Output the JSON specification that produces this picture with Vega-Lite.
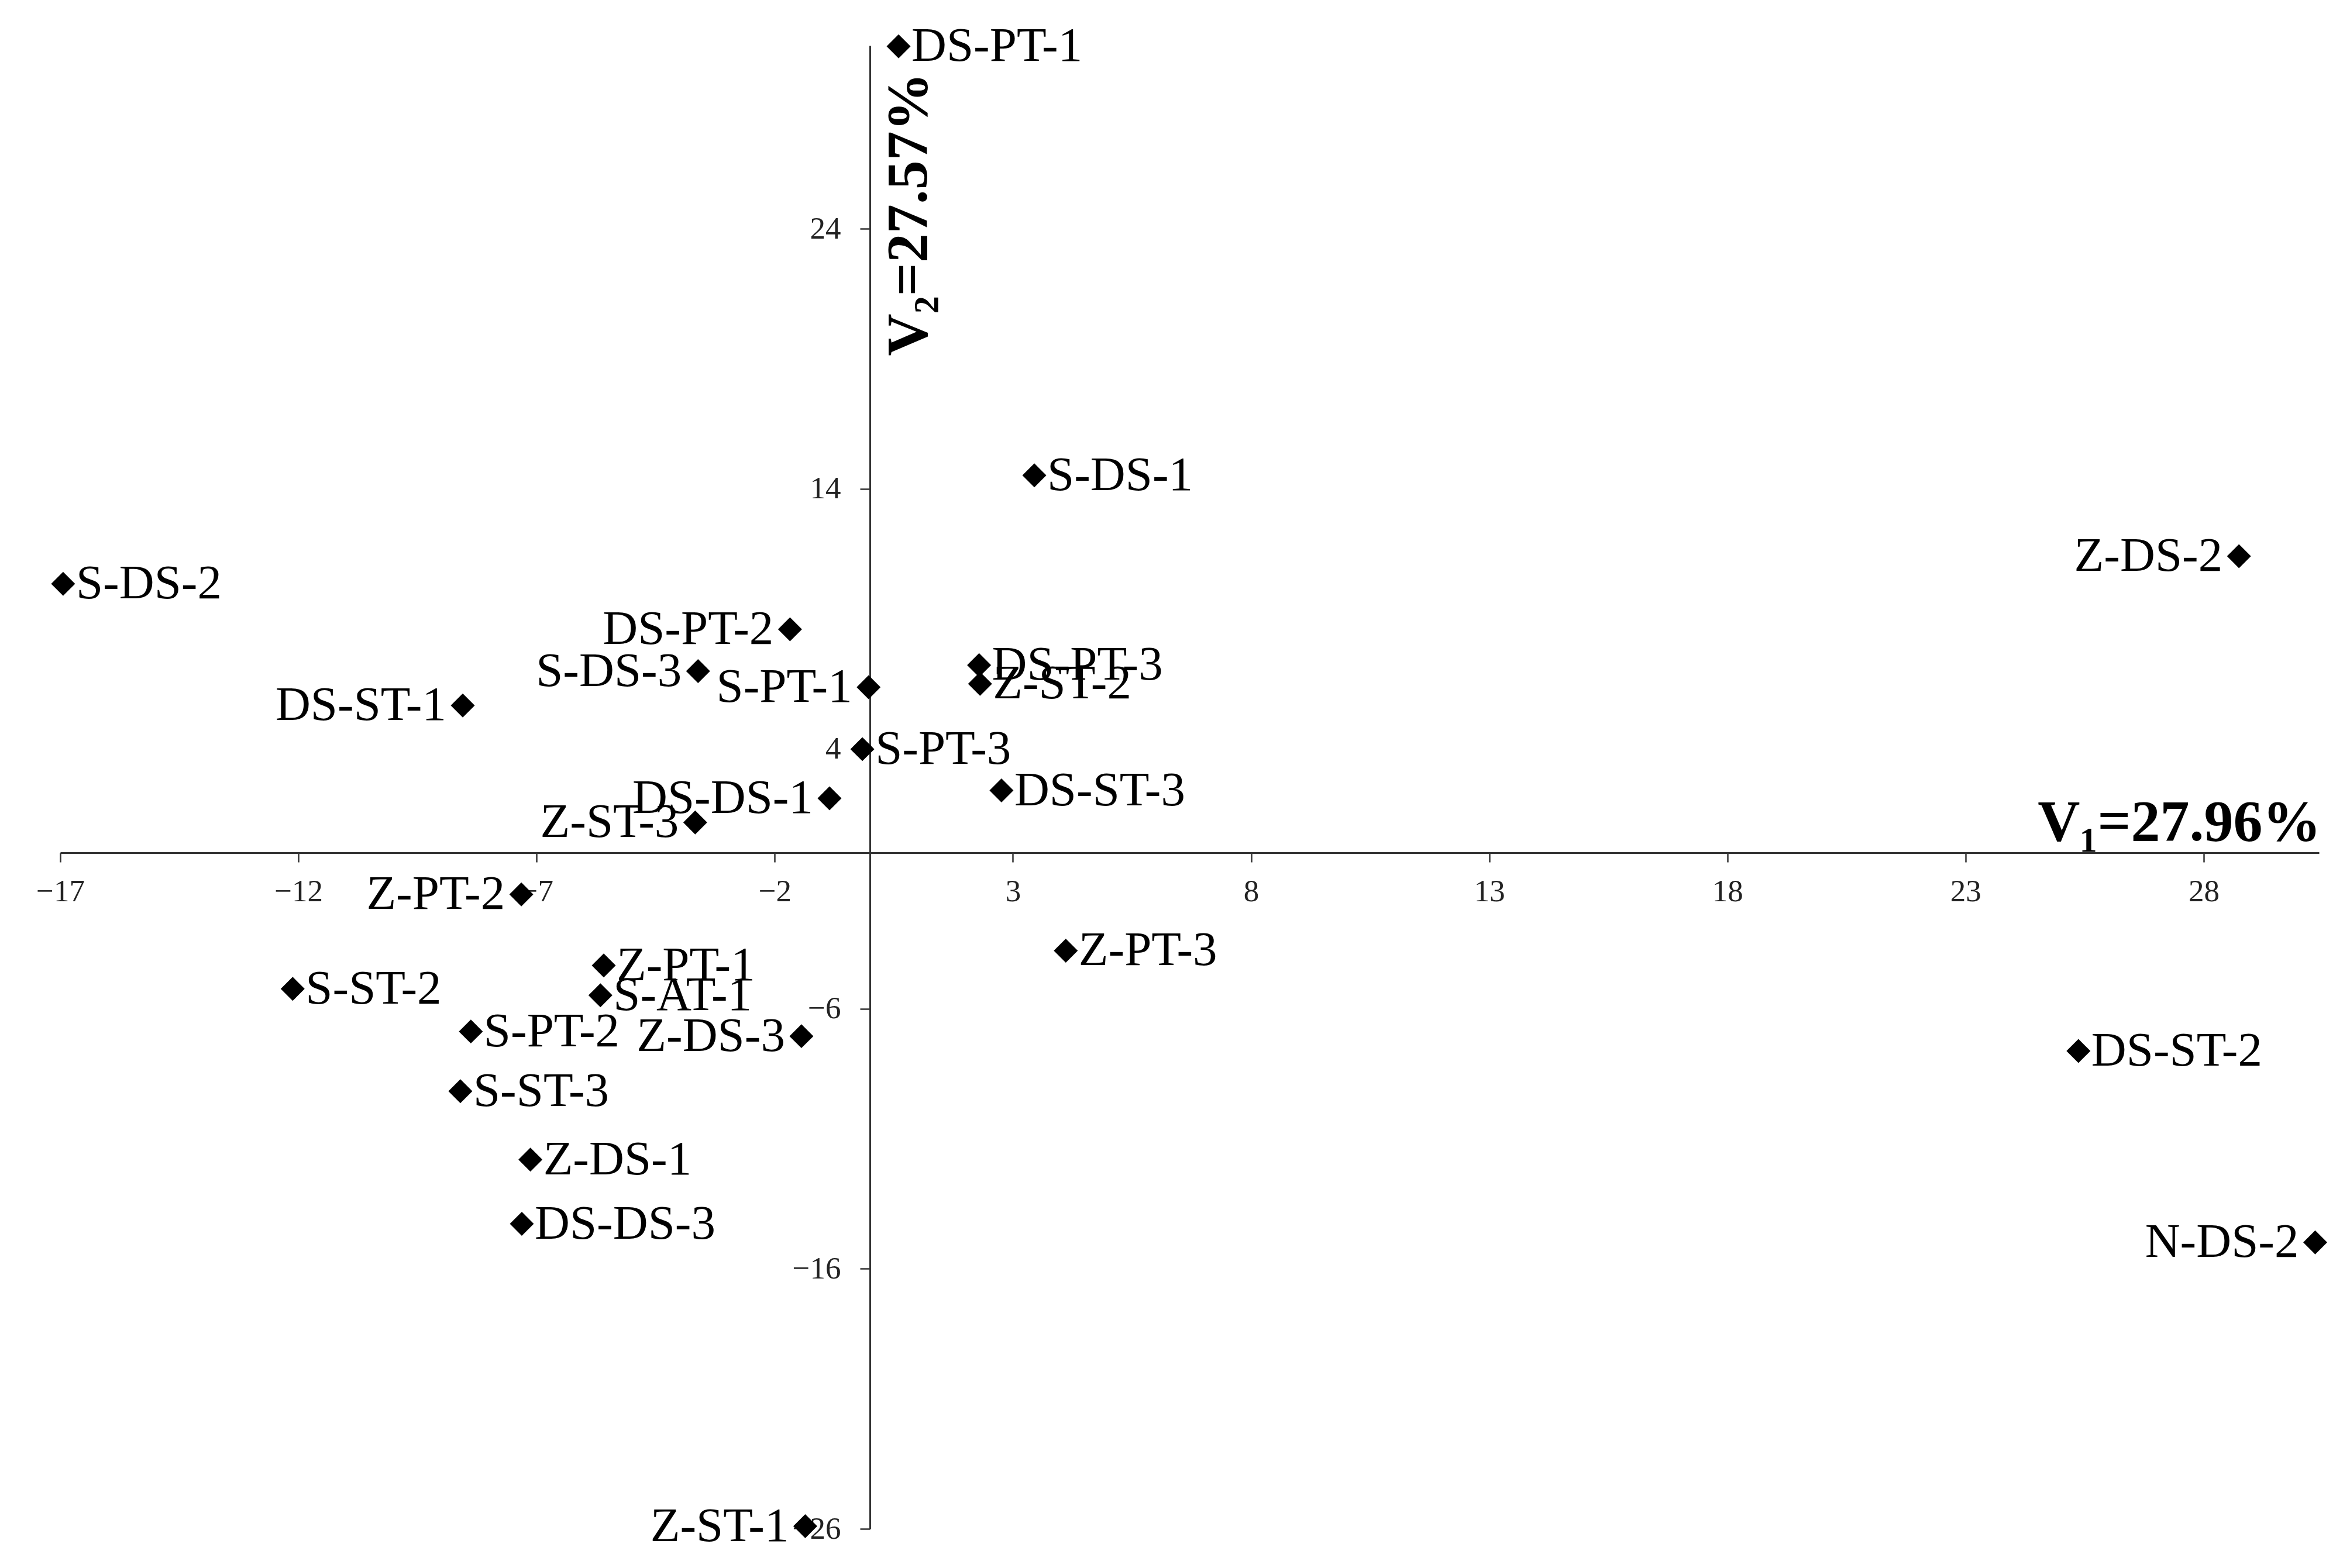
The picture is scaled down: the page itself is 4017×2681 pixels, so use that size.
{
  "$schema": "https://vega.github.io/schema/vega-lite/v6.json",
  "width": 3861,
  "height": 2536,
  "autosize": {"type": "none"},
  "padding": {"left": 103, "top": 78, "right": 53, "bottom": 67},
  "background": "white",
  "config": {"view": {"stroke": null}, "font": "Liberation Serif"},
  "data": {
    "values": [
      {"name": "DS-PT-1", "v1": 0.6, "v2": 31.02},
      {"name": "S-DS-1", "v1": 3.45, "v2": 14.52},
      {"name": "Z-DS-2", "v1": 28.74, "v2": 11.41},
      {"name": "S-DS-2", "v1": -16.94, "v2": 10.35},
      {"name": "DS-PT-2", "v1": -1.68, "v2": 8.6},
      {"name": "S-DS-3", "v1": -3.61, "v2": 6.99},
      {"name": "DS-PT-3", "v1": 2.29, "v2": 7.22},
      {"name": "Z-ST-2", "v1": 2.31, "v2": 6.5},
      {"name": "S-PT-1", "v1": -0.03, "v2": 6.37},
      {"name": "DS-ST-1", "v1": -8.55, "v2": 5.67},
      {"name": "S-PT-3", "v1": -0.16, "v2": 3.99},
      {"name": "DS-ST-3", "v1": 2.76, "v2": 2.4},
      {"name": "DS-DS-1", "v1": -0.85, "v2": 2.1},
      {"name": "Z-ST-3", "v1": -3.67, "v2": 1.17},
      {"name": "Z-PT-2", "v1": -7.32, "v2": -1.6},
      {"name": "Z-PT-3", "v1": 4.11, "v2": -3.76},
      {"name": "Z-PT-1", "v1": -5.59, "v2": -4.33},
      {"name": "S-ST-2", "v1": -12.12, "v2": -5.23},
      {"name": "S-AT-1", "v1": -5.66, "v2": -5.48},
      {"name": "S-PT-2", "v1": -8.38, "v2": -6.87},
      {"name": "Z-DS-3", "v1": -1.44, "v2": -7.05},
      {"name": "DS-ST-2", "v1": 25.37, "v2": -7.62},
      {"name": "S-ST-3", "v1": -8.6, "v2": -9.17},
      {"name": "Z-DS-1", "v1": -7.13, "v2": -11.8},
      {"name": "DS-DS-3", "v1": -7.31, "v2": -14.27},
      {"name": "N-DS-2", "v1": 30.34, "v2": -14.98},
      {"name": "Z-ST-1", "v1": -1.36, "v2": -25.9}
    ]
  },
  "encoding": {
    "x": {
      "field": "v1",
      "type": "quantitative",
      "scale": {"domain": [-17, 30.42], "nice": false, "zero": false},
      "axis": {
        "title": "V₁=27.96%",
        "values": [-17, -12, -7, -2, 3, 8, 13, 18, 23, 28],
        "offset": -1156,
        "grid": false,
        "domainColor": "#333333",
        "domainWidth": 3,
        "tickColor": "#333333",
        "tickWidth": 2.5,
        "tickSize": 16,
        "labelFont": "Liberation Serif",
        "labelFontSize": 53,
        "labelColor": "#222222",
        "labelPadding": 24,
        "labelFlush": false,
        "labelOverlap": false,
        "labelBound": false,
        "titleFont": "Liberation Serif",
        "titleFontSize": 100,
        "titleFontWeight": "bold",
        "titleColor": "black",
        "titleX": 3864,
        "titleY": -22,
        "titleAlign": "right",
        "titleBaseline": "alphabetic",
        "titleAngle": 0
      }
    },
    "y": {
      "field": "v2",
      "type": "quantitative",
      "scale": {"domain": [-26, 31.05], "nice": false, "zero": false},
      "axis": {
        "title": "V₂=27.57%",
        "values": [24, 14, 4, -6, -16, -26],
        "offset": -1384,
        "grid": false,
        "domainColor": "#333333",
        "domainWidth": 3,
        "tickColor": "#333333",
        "tickWidth": 2.5,
        "tickSize": 17,
        "labelFont": "Liberation Serif",
        "labelFontSize": 53,
        "labelColor": "#222222",
        "labelPadding": 33,
        "labelFlush": false,
        "labelOverlap": false,
        "labelBound": false,
        "titleFont": "Liberation Serif",
        "titleFontSize": 100,
        "titleFontWeight": "bold",
        "titleColor": "black",
        "titleX": 96,
        "titleY": 530,
        "titleAngle": 270,
        "titleAlign": "left",
        "titleBaseline": "alphabetic"
      }
    }
  },
  "layer": [
    {
      "mark": {"type": "point", "shape": "diamond", "filled": true, "size": 1680, "color": "black", "opacity": 1}
    },
    {
      "transform": [{"filter": {"not": {"field": "name", "oneOf": ["Z-DS-2", "DS-PT-2", "S-DS-3", "S-PT-1", "DS-ST-1", "DS-DS-1", "Z-ST-3", "Z-PT-2", "Z-DS-3", "N-DS-2", "Z-ST-1"]}}}],
      "mark": {"type": "text", "align": "left", "baseline": "middle", "dx": 22, "fontSize": 83, "font": "Liberation Serif", "color": "black"},
      "encoding": {"text": {"field": "name"}}
    },
    {
      "transform": [{"filter": {"field": "name", "oneOf": ["Z-DS-2", "DS-PT-2", "S-DS-3", "S-PT-1", "DS-ST-1", "DS-DS-1", "Z-ST-3", "Z-PT-2", "Z-DS-3", "N-DS-2", "Z-ST-1"]}}],
      "mark": {"type": "text", "align": "right", "baseline": "middle", "dx": -28, "fontSize": 83, "font": "Liberation Serif", "color": "black"},
      "encoding": {"text": {"field": "name"}}
    }
  ]
}
